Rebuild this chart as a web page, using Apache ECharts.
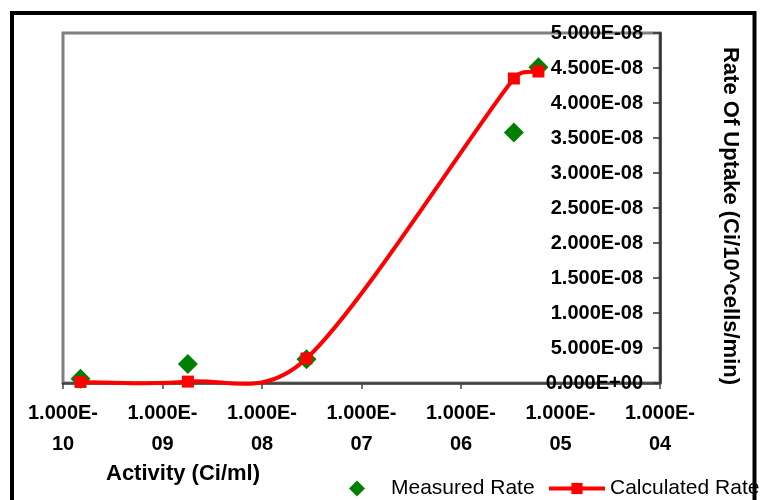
<!DOCTYPE html>
<html>
<head>
<meta charset="utf-8">
<style>
  html, body { margin: 0; padding: 0; background: #fff; }
  #chart { width: 760px; height: 500px; }
</style>
<script src="https://cdn.jsdelivr.net/npm/echarts@6/dist/echarts.min.js"></script>
</head>
<body>
<div id="chart"></div>
<script>
// Activity (Ci/ml) of each sample, shared by both series
const activity = [1.5e-10, 1.8e-9, 2.8e-8, 3.4e-6, 6.0e-6];
// Uptake rates (Ci/10^cells/min)
const measuredRate = [6.0e-10, 2.7e-9, 3.4e-9, 3.58e-8, 4.51e-8];
const calculatedRate = [1.5e-10, 2.0e-10, 3.5e-9, 4.35e-8, 4.45e-8];

// Axis tick labels
const xTickLabels = ['1.000E-\n10', '1.000E-\n09', '1.000E-\n08', '1.000E-\n07',
                     '1.000E-\n06', '1.000E-\n05', '1.000E-\n04'];
const yTickLabels = ['0.000E+00', '5.000E-09', '1.000E-08', '1.500E-08', '2.000E-08',
                     '2.500E-08', '3.000E-08', '3.500E-08', '4.000E-08', '4.500E-08', '5.000E-08'];

const FONT = '"Liberation Sans", Arial, sans-serif';
const RED = '#ff0000';
const GREEN = '#008000';

const calcPoints = activity.map((a, i) => [a, calculatedRate[i]]);
const measPoints = activity.map((a, i) => [a, measuredRate[i]]);

// Smoothed curve through the calculated points: cardinal-spline style Bezier
// segments, with each handle kept to at most half of its segment's length.
function renderSmoothCurve(params, api) {
  if (params.dataIndex !== 0) return null;
  const p = calcPoints.map(d => api.coord(d));
  const n = p.length;
  const sub = (a, b) => [a[0] - b[0], a[1] - b[1]];
  const len = v => Math.hypot(v[0], v[1]);
  const handle = (tan, segLen) => {
    let v = [tan[0] / 6, tan[1] / 6];
    const l = len(v), cap = segLen / 2;
    if (l > cap && l > 0) v = [v[0] * cap / l, v[1] * cap / l];
    return v;
  };
  const children = [];
  for (let i = 0; i < n - 1; i++) {
    const p0 = p[Math.max(i - 1, 0)], p1 = p[i], p2 = p[i + 1], p3 = p[Math.min(i + 2, n - 1)];
    const segLen = len(sub(p2, p1));
    const h1 = handle(sub(p2, p0), segLen);
    const h2 = handle(sub(p3, p1), segLen);
    children.push({
      type: 'bezierCurve',
      shape: {
        x1: p1[0], y1: p1[1], x2: p2[0], y2: p2[1],
        cpx1: p1[0] + h1[0], cpy1: p1[1] + h1[1],
        cpx2: p2[0] - h2[0], cpy2: p2[1] - h2[1]
      },
      style: { stroke: RED, lineWidth: 4, fill: null, lineJoin: 'round', lineCap: 'round' }
    });
  }
  return { type: 'group', children: children };
}

const chart = echarts.init(document.getElementById('chart'), null, { renderer: 'canvas' });

chart.setOption({
  animation: false,
  backgroundColor: '#ffffff',
  grid: {
    left: 63, right: 100, top: 33, bottom: 117,
    show: true, borderColor: '#808080', borderWidth: 3, backgroundColor: 'transparent'
  },
  xAxis: {
    type: 'log',
    logBase: 10,
    min: 1e-10,
    max: 1e-4,
    axisLine: { show: true, onZero: false, lineStyle: { color: '#444', width: 2.5 } },
    axisTick: { show: true, length: 6, lineStyle: { color: '#444', width: 1.5 } },
    splitLine: { show: false },
    minorTick: { show: false },
    axisLabel: {
      margin: 15,
      color: '#000',
      fontFamily: FONT,
      fontWeight: 'bold',
      fontSize: 20,
      lineHeight: 31,
      align: 'center',
      formatter: function (v) {
        const i = Math.round(Math.log10(v)) + 10;
        return xTickLabels[i] || '';
      }
    }
  },
  yAxis: {
    type: 'value',
    position: 'right',
    min: 0,
    max: 5e-8,
    interval: 5e-9,
    axisLine: { show: true, lineStyle: { color: '#333', width: 2.5 } },
    axisTick: { show: true, inside: true, length: 7, lineStyle: { color: '#333', width: 1.5 } },
    splitLine: { show: false },
    axisLabel: {
      inside: true,
      margin: 17,
      color: '#000',
      fontFamily: FONT,
      fontWeight: 'bold',
      fontSize: 20,
      formatter: function (v) {
        const i = Math.round(v / 5e-9);
        return yTickLabels[i] || '';
      }
    }
  },
  legend: [
    {
      left: 349,
      top: 478,
      itemWidth: 16,
      itemHeight: 16,
      padding: 0,
      textStyle: { color: '#000', fontFamily: FONT, fontSize: 21, padding: [0, 0, 0, 21] },
      itemStyle: { opacity: 1 },
      data: [{ name: 'Measured Rate', icon: 'diamond' }]
    },
    {
      left: 547,
      top: 478,
      itemWidth: 56,
      itemHeight: 14,
      padding: 0,
      textStyle: { color: '#000', fontFamily: FONT, fontSize: 21 },
      data: [{ name: 'Calculated Rate', lineStyle: { color: RED, width: 4, opacity: 1 } }]
    }
  ],
  graphic: [
    {
      type: 'text',
      x: 183, y: 474,
      style: {
        text: 'Activity (Ci/ml)',
        fill: '#000',
        font: 'bold 22px ' + FONT,
        textAlign: 'center',
        textVerticalAlign: 'middle'
      }
    },
    {
      type: 'text',
      x: 730, y: 216,
      rotation: -Math.PI / 2,
      style: {
        text: 'Rate Of Uptake (Ci/10^cells/min)',
        fill: '#000',
        font: 'bold 22px ' + FONT,
        textAlign: 'center',
        textVerticalAlign: 'middle'
      }
    },
    {
      type: 'rect',
      z: 100,
      silent: true,
      shape: { x: 12, y: 13, width: 742.5, height: 530 },
      style: { fill: 'none', stroke: '#000', lineWidth: 4 }
    }
  ],
  series: [
    {
      name: 'Measured Rate',
      type: 'scatter',
      symbol: 'diamond',
      symbolSize: 20,
      itemStyle: { color: GREEN, opacity: 1 },
      data: measPoints,
      z: 2
    },
    {
      type: 'custom',
      silent: true,
      renderItem: renderSmoothCurve,
      data: calcPoints,
      z: 3
    },
    {
      name: 'Calculated Rate',
      type: 'line',
      symbol: 'rect',
      symbolSize: 12,
      showAllSymbol: true,
      lineStyle: { color: RED, width: 4, opacity: 0 },
      itemStyle: { color: RED },
      data: calcPoints,
      z: 4
    }
  ]
});
</script>
</body>
</html>
